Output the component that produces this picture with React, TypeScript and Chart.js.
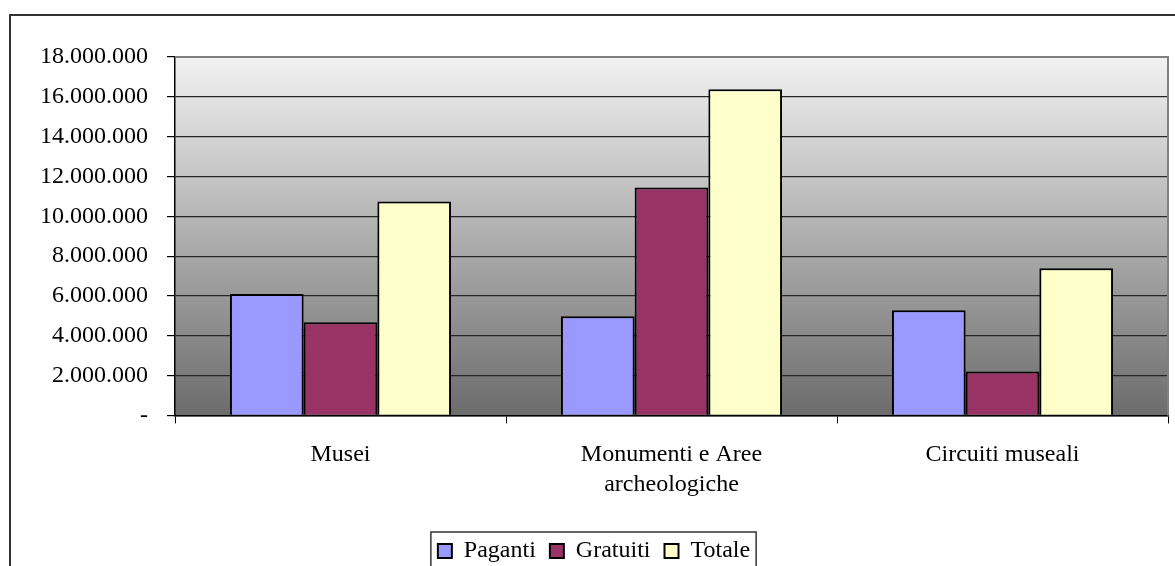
import React, { useEffect, useRef } from 'react';
import { Chart, registerables } from 'chart.js';

Chart.register(...registerables);

const categories: (string | string[])[] = ['Musei', ['Monumenti e Aree', 'archeologiche'], 'Circuiti museali'];
const seriesNames = ['Paganti', 'Gratuiti', 'Totale'];
const paganti = [6100000, 4980000, 5280000];
const gratuiti = [4680000, 11450000, 2210000];
const totale = [10740000, 16380000, 7390000];
const yMin = 0;
const yMax = 18000000;
const yStep = 2000000;

const seriesColors = ['#9999FF', '#993366', '#FFFFCC'];

const fmt = (v: number) =>
  v === 0 ? '-' : String(Math.round(v)).replace(/\B(?=(\d{3})+(?!\d))/g, '.');

const FONT = "'Liberation Serif', 'Times New Roman', serif";

const deco = {
  id: 'deco',
  beforeDraw(chart: any) {
    const { ctx, chartArea } = chart;
    const { left, top, right, bottom } = chartArea;
    ctx.save();
    ctx.fillStyle = '#ffffff';
    ctx.fillRect(0, 0, chart.width, chart.height);
    const g = ctx.createLinearGradient(0, top, 0, bottom);
    g.addColorStop(0, '#f2f2f2');
    g.addColorStop(1, '#6c6c6c');
    ctx.fillStyle = g;
    ctx.fillRect(left, top, right - left, bottom - top);
    ctx.strokeStyle = '#333333';
    ctx.lineWidth = 2;
    ctx.strokeRect(10, 15, chart.width + 40, chart.height + 40);
    ctx.restore();
  },
  beforeDatasetsDraw(chart: any) {
    const { ctx, chartArea } = chart;
    const { left, top, right, bottom } = chartArea;
    ctx.save();
    ctx.strokeStyle = '#808080';
    ctx.lineWidth = 2;
    ctx.beginPath();
    ctx.moveTo(left, top);
    ctx.lineTo(right, top);
    ctx.lineTo(right, bottom);
    ctx.stroke();
    ctx.restore();
  },
  afterDraw(chart: any) {
    const lg = chart.legend;
    if (!lg || !lg.legendHitBoxes || !lg.legendHitBoxes.length) return;
    const hb = lg.legendHitBoxes;
    const first = hb[0];
    const last = hb[hb.length - 1];
    const l = first.left - 7;
    const r = last.left + last.width + 6;
    const cy = first.top + first.height / 2;
    const { ctx } = chart;
    ctx.save();
    ctx.strokeStyle = '#333333';
    ctx.lineWidth = 1.5;
    ctx.strokeRect(l, cy - 19, r - l, 40);
    ctx.restore();
  },
};

export default function App() {
  const ref = useRef<HTMLCanvasElement | null>(null);

  useEffect(() => {
    if (!ref.current) return;
    Chart.defaults.font.family = FONT;
    Chart.defaults.color = '#000000';
    const data = [paganti, gratuiti, totale];
    const chart = new Chart(ref.current, {
      type: 'bar',
      data: {
        labels: categories as any,
        datasets: seriesNames.map((name, i) => ({
          label: name,
          data: data[i],
          backgroundColor: seriesColors[i],
          borderColor: '#000000',
          borderWidth: 2,
          categoryPercentage: 0.668,
          barPercentage: 1.0,
        })),
      },
      options: {
        responsive: false,
        animation: false,
        devicePixelRatio: 1,
        layout: { padding: { left: 20, top: 57, right: 7, bottom: 27 } },
        plugins: {
          tooltip: { enabled: false },
          legend: {
            position: 'bottom',
            title: { display: true, text: ' ', font: { size: 8 }, padding: { top: 0, bottom: 0 } },
            labels: {
              font: { size: 24, family: FONT },
              color: '#000000',
              boxWidth: 14,
              boxHeight: 14,
              padding: 14,
            },
          },
        },
        scales: {
          x: {
            grid: {
              display: true,
              drawOnChartArea: false,
              drawTicks: true,
              tickLength: 8,
              color: '#000000',
              offset: true,
            },
            border: { display: true, color: '#000000', width: 1.5 },
            ticks: {
              font: { size: 24, family: FONT, lineHeight: 1.25 },
              color: '#000000',
              padding: 16,
              maxRotation: 0,
              autoSkip: false,
            },
          },
          y: {
            min: yMin,
            max: yMax,
            afterFit: (scale: any) => {
              scale.width = 155;
            },
            grid: {
              color: (c: any) => (c.tick && c.tick.value === yMax ? '#808080' : '#262626'),
              tickColor: '#000000',
              lineWidth: 1.2,
              tickLength: 8,
            },
            border: { display: true, color: '#000000', width: 1.5 },
            ticks: {
              stepSize: yStep,
              font: { size: 24, family: FONT },
              color: '#000000',
              padding: 19,
              callback: (v: any) => fmt(Number(v)),
            },
          },
        },
      },
      plugins: [deco],
    });
    return () => chart.destroy();
  }, []);

  return (
    <div style={{ position: 'fixed', left: 0, top: 0, width: 1175, height: 566, overflow: 'hidden', background: '#fff' }}>
      <canvas ref={ref} width={1175} height={600} style={{ position: 'absolute', left: 0, top: 0, width: 1175, height: 600 }} />
    </div>
  );
}
